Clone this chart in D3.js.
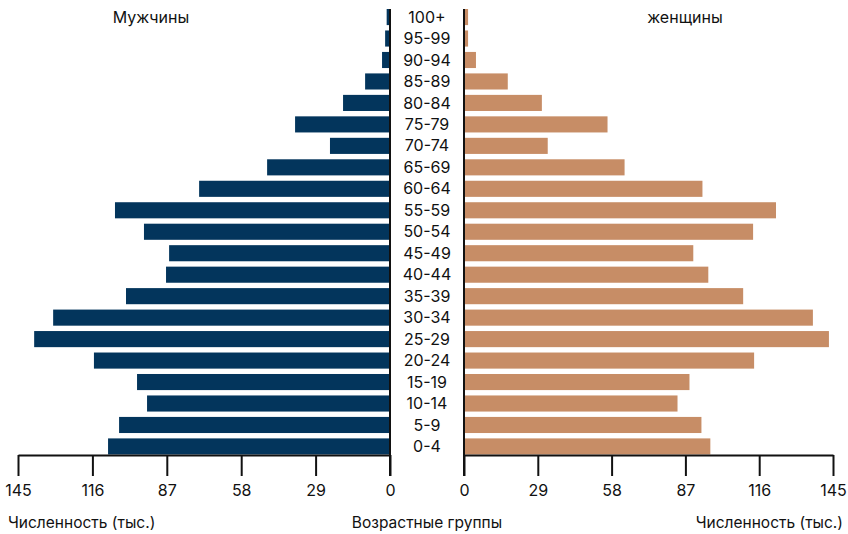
<!DOCTYPE html>
<html>
<head>
<meta charset="utf-8">
<script src="https://cdn.jsdelivr.net/npm/d3@7"></script>
<style>
  html, body { margin: 0; padding: 0; background: #fff; }
  svg { display: block; font-family: Inter, "Liberation Sans", Arial, sans-serif; }
</style>
</head>
<body>
<svg id="chart" width="848" height="534"></svg>
<script>
const ageGroups = ["100+","95-99","90-94","85-89","80-84","75-79","70-74","65-69","60-64","55-59","50-54","45-49","40-44","35-39","30-34","25-29","20-24","15-19","10-14","5-9","0-4"];
const maleValues = [1.3,1.9,3.1,9.7,18.3,37.0,23.4,47.9,74.4,107.2,95.9,86.1,87.3,102.9,131.3,138.7,115.4,98.6,94.7,105.6,109.9];
const femaleValues = [1.6,1.6,4.7,17.2,30.6,56.4,32.9,63.1,93.7,122.6,113.6,90.1,96.0,109.7,137.1,143.4,114.0,88.6,83.9,93.3,96.8];
const tickValues = [0,29,58,87,116,145];
const maleTitle = "Мужчины";
const femaleTitle = "женщины";
const xTitle = "Численность (тыс.)";
const yTitle = "Возрастные группы";

const maleColor = "#03355c";
const femaleColor = "#c78d66";
const axisColor = "#111";
const FONT = "Inter, 'Liberation Sans', Arial, sans-serif";

const svg = d3.select("#chart");

const y = d3.scaleBand().domain(ageGroups).range([9, 454.5]).paddingInner(0.25).paddingOuter(0);
const xL = d3.scaleLinear().domain([0,145]).range([390, 18]);
const xR = d3.scaleLinear().domain([0,145]).range([464, 833]);

const data = ageGroups.map((g,i)=>({g, m: maleValues[i], f: femaleValues[i]}));

svg.append("g").selectAll("rect").data(data).join("rect")
  .attr("x", d => xL(d.m)).attr("y", d => y(d.g))
  .attr("width", d => xL(0) - xL(d.m)).attr("height", y.bandwidth())
  .attr("fill", maleColor);

svg.append("g").selectAll("rect").data(data).join("rect")
  .attr("x", xR(0)).attr("y", d => y(d.g))
  .attr("width", d => xR(d.f) - xR(0)).attr("height", y.bandwidth())
  .attr("fill", femaleColor);

// age labels
svg.append("g").selectAll("text").data(ageGroups).join("text")
  .attr("x", 427).attr("y", d => y(d) + y.bandwidth()/2 + 5.6)
  .attr("text-anchor", "middle").attr("font-size", 16).attr("fill", "#111")
  .text(d => d);

const axisY = 455;
function styleAxis(g) {
  g.selectAll(".domain").attr("stroke", axisColor).attr("stroke-width", 2);
  g.selectAll(".tick line").attr("stroke", axisColor).attr("stroke-width", 2);
  g.selectAll(".tick text").attr("font-size", 16).attr("fill", "#111").attr("font-family", FONT);
}
svg.append("g").attr("transform", `translate(0,${axisY})`)
  .call(d3.axisBottom(xL).tickValues(tickValues).tickSize(21).tickSizeOuter(0).tickPadding(9))
  .call(styleAxis);
svg.append("g").attr("transform", `translate(0,${axisY})`)
  .call(d3.axisBottom(xR).tickValues(tickValues).tickSize(21).tickSizeOuter(0).tickPadding(9))
  .call(styleAxis);

// vertical axis lines
svg.append("line").attr("x1", xL(0)).attr("x2", xL(0)).attr("y1", 9).attr("y2", axisY + 21)
  .attr("stroke", axisColor).attr("stroke-width", 2);
svg.append("line").attr("x1", xR(0)).attr("x2", xR(0)).attr("y1", 9).attr("y2", axisY + 21)
  .attr("stroke", axisColor).attr("stroke-width", 2);

// titles
svg.append("text").attr("x", 151).attr("y", 23).attr("text-anchor", "middle")
  .attr("font-size", 16).attr("fill", "#111").text(maleTitle);
svg.append("text").attr("x", 685).attr("y", 23).attr("text-anchor", "middle")
  .attr("font-size", 16).attr("fill", "#111").text(femaleTitle);
svg.append("text").attr("x", 8).attr("y", 528).attr("text-anchor", "start")
  .attr("font-size", 15.5).attr("fill", "#111").text(xTitle);
svg.append("text").attr("x", 843).attr("y", 528).attr("text-anchor", "end")
  .attr("font-size", 15.5).attr("fill", "#111").text(xTitle);
svg.append("text").attr("x", 427).attr("y", 528).attr("text-anchor", "middle")
  .attr("font-size", 15.5).attr("fill", "#111").text(yTitle);
</script>
</body>
</html>
